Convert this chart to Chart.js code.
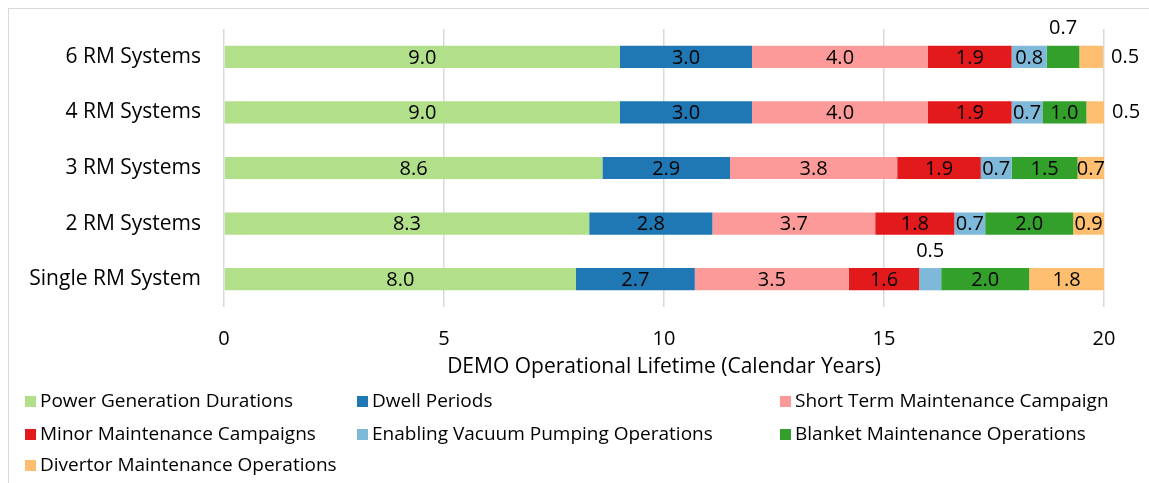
<!DOCTYPE html>
<html>
<head>
<meta charset="utf-8">
<script src="https://cdn.jsdelivr.net/npm/chart.js@4.4.1/dist/chart.umd.min.js"></script>
<style>
  html, body { margin: 0; padding: 0; background: #fff; overflow: hidden; }
  #wrap { position: relative; width: 1149px; height: 483px; }
  #frame { position: absolute; left: 8px; top: 8px; width: 1200px; height: 600px; border: 1px solid #d9d9d9; box-sizing: border-box; }
  canvas { position: absolute; left: 0; top: 0; }
</style>
</head>
<body>
<div id="wrap">
  <div id="frame"></div>
  <canvas id="chart" width="1149" height="483"></canvas>
</div>
<script>
// categories, top to bottom
const categories = ['6 RM Systems', '4 RM Systems', '3 RM Systems', '2 RM Systems', 'Single RM System'];

// series values (calendar years), same order as categories
const powerGeneration = [9.0, 9.0, 8.6, 8.3, 8.0];
const dwellPeriods = [3.0, 3.0, 2.9, 2.8, 2.7];
const shortTermMaintenance = [4.0, 4.0, 3.8, 3.7, 3.5];
const minorMaintenance = [1.9, 1.9, 1.9, 1.8, 1.6];
const vacuumPumping = [0.8, 0.7, 0.7, 0.7, 0.5];
const blanketMaintenance = [0.74, 1.0, 1.5, 2.0, 2.0];
const divertorMaintenance = [0.54, 0.5, 0.7, 0.9, 1.8];

const xTicks = [0, 5, 10, 15, 20];

const seriesNames = [
  'Power Generation Durations', 'Dwell Periods', 'Short Term Maintenance Campaign',
  'Minor Maintenance Campaigns', 'Enabling Vacuum Pumping Operations', 'Blanket Maintenance Operations',
  'Divertor Maintenance Operations'
];
const seriesColors = ['#b2df8a', '#1f78b4', '#fb9a99', '#e31a1c', '#7fb9da', '#33a02c', '#fdbf6f'];
const seriesData = [powerGeneration, dwellPeriods, shortTermMaintenance, minorMaintenance,
  vacuumPumping, blanketMaintenance, divertorMaintenance];

// labels that sit outside their segment: "datasetIndex:categoryIndex" -> where
const outsideLabels = { '5:0': 'above', '6:0': 'right', '6:1': 'right', '4:4': 'above' };

const FONT = '"Open Sans", Lato, sans-serif';

const datasets = seriesData.map((data, i) => ({
  label: seriesNames[i],
  data,
  backgroundColor: seriesColors[i],
  borderWidth: 0,
  categoryPercentage: 0.5,
  barPercentage: 0.8
}));

const valueLabels = {
  id: 'valueLabels',
  afterDatasetsDraw(chart) {
    const ctx = chart.ctx;
    ctx.save();
    ctx.font = '20px ' + FONT;
    ctx.fillStyle = '#000';
    ctx.textBaseline = 'middle';
    chart.data.datasets.forEach((ds, di) => {
      const meta = chart.getDatasetMeta(di);
      meta.data.forEach((bar, ci) => {
        const text = (Math.round(ds.data[ci] * 10) / 10).toFixed(1);
        const right = Math.min(bar.x, chart.chartArea.right);
        const cx = (bar.base + right) / 2;
        const where = outsideLabels[di + ':' + ci];
        if (where === 'above') {
          ctx.textAlign = 'center';
          ctx.fillText(text, cx, bar.y - bar.height / 2 - 17);
        } else if (where === 'right') {
          ctx.textAlign = 'left';
          ctx.fillText(text, right + 8, bar.y);
        } else {
          ctx.textAlign = 'center';
          ctx.fillText(text, cx, bar.y + 1);
        }
      });
    });
    ctx.restore();
  }
};

// three-column legend under the axis
const gridLegend = {
  id: 'gridLegend',
  afterDraw(chart) {
    const ctx = chart.ctx;
    const colX = [25, 357, 780];
    const rowY = [401, 434, 465];
    ctx.save();
    ctx.font = '19px ' + FONT;
    ctx.textBaseline = 'middle';
    ctx.textAlign = 'left';
    chart.data.datasets.forEach((ds, i) => {
      const x = colX[i % 3];
      const y = rowY[Math.floor(i / 3)];
      ctx.fillStyle = ds.backgroundColor;
      ctx.fillRect(x, y - 5, 11, 11);
      ctx.fillStyle = '#000';
      ctx.fillText(ds.label, x + 15, y + 1);
    });
    ctx.restore();
  }
};

new Chart(document.getElementById('chart'), {
  type: 'bar',
  data: { labels: categories, datasets },
  options: {
    responsive: false,
    animation: false,
    indexAxis: 'y',
    layout: { padding: { top: 29, right: 45, bottom: 103, left: 0 } },
    plugins: {
      legend: { display: false },
      tooltip: { enabled: false }
    },
    scales: {
      x: {
        stacked: true,
        min: 0,
        max: 20,
        afterBuildTicks: (scale) => { scale.ticks = xTicks.map(v => ({ value: v })); },
        afterFit: (scale) => { scale.height = 73; },
        grid: { color: '#d9d9d9', lineWidth: 1.5, drawTicks: false },
        border: { display: false },
        ticks: { padding: 20, color: '#000', font: { family: FONT, size: 20 } },
        title: {
          display: true,
          text: 'DEMO Operational Lifetime (Calendar Years)',
          color: '#000',
          font: { family: FONT, size: 21 },
          padding: { top: 4, bottom: 0 }
        }
      },
      y: {
        stacked: true,
        afterFit: (scale) => { scale.width = 224; scale.paddingTop = 0; scale.paddingBottom = 0; },
        grid: { display: false },
        border: { display: false },
        ticks: { padding: 15, color: '#000', font: { family: FONT, size: 21 } }
      }
    }
  },
  plugins: [valueLabels, gridLegend]
});
</script>
</body>
</html>
